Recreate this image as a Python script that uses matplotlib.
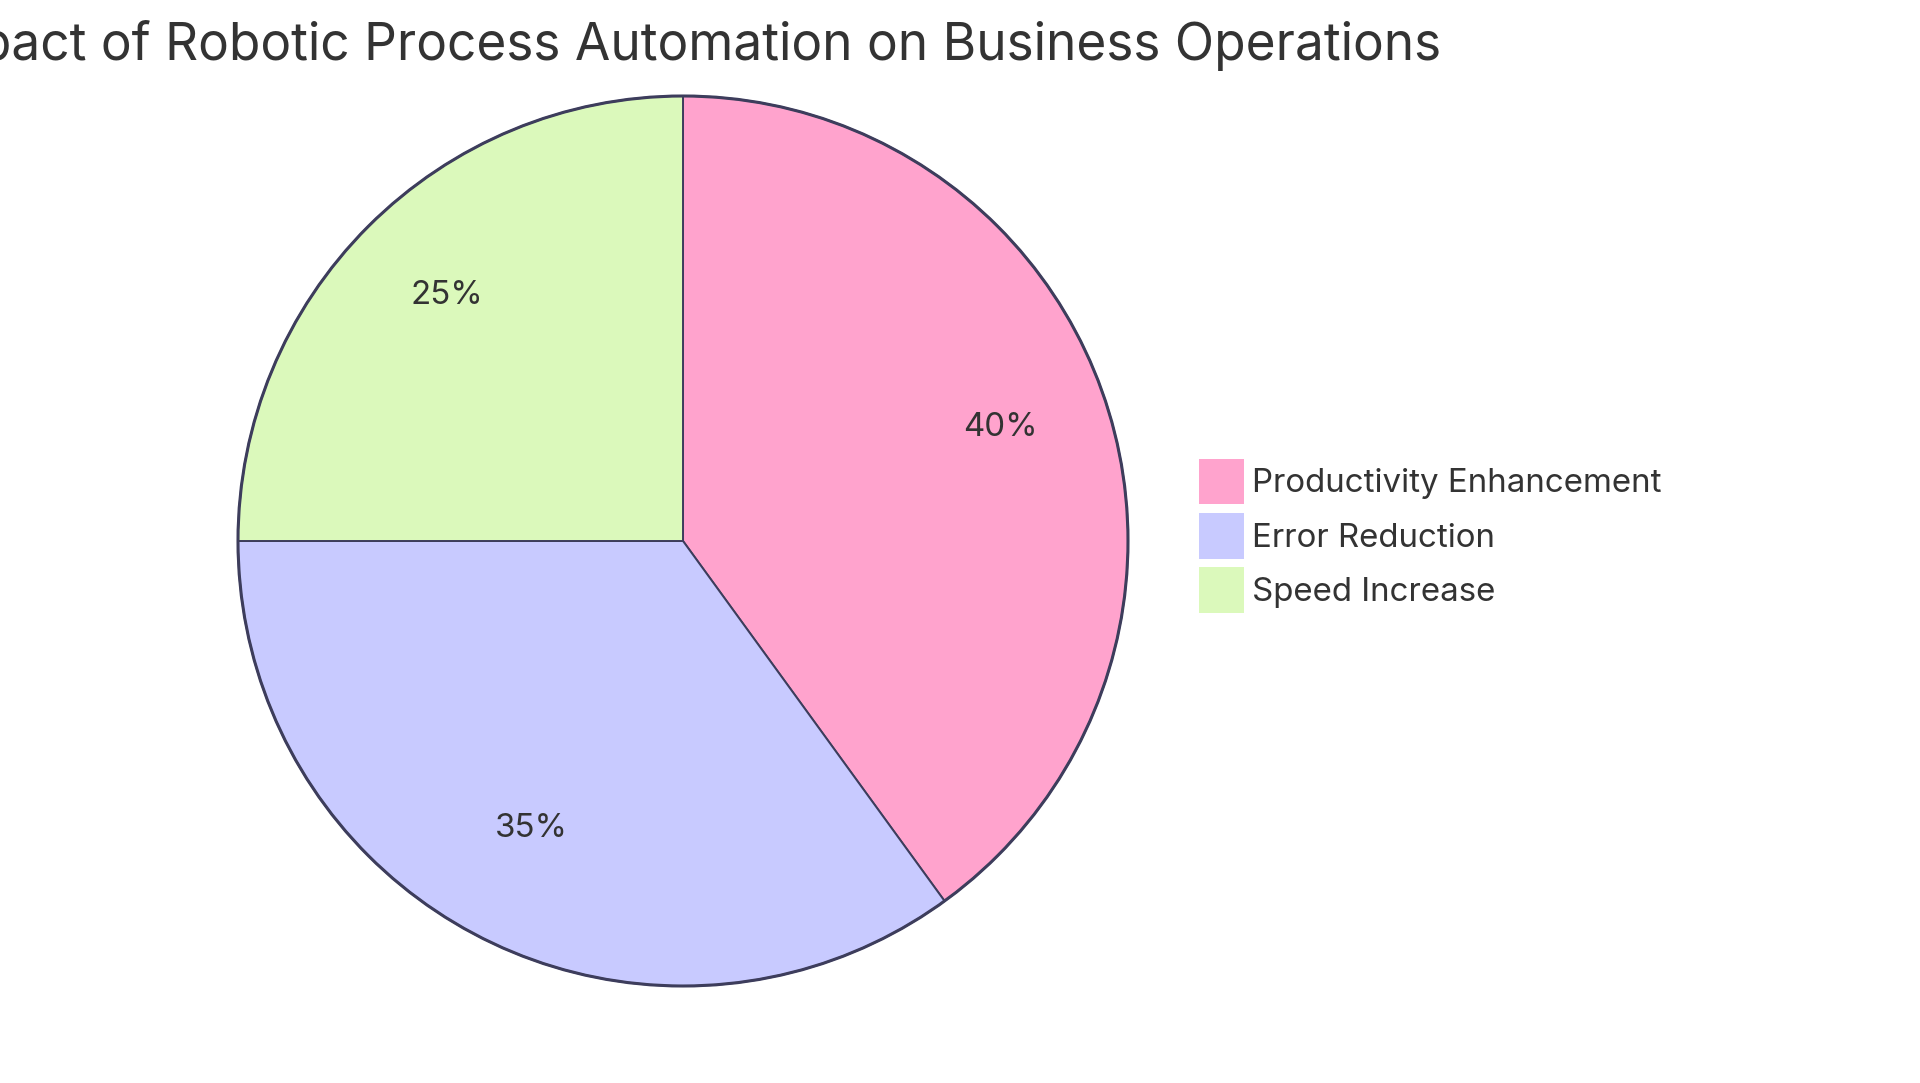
import matplotlib

matplotlib.use("Agg")
import matplotlib.pyplot as plt
import matplotlib.transforms as mtransforms

# data
labels = ["Productivity Enhancement", "Error Reduction", "Speed Increase"]
values = [40, 35, 25]
colors = ["#ffa3cd", "#c8caff", "#dbf9bb"]
title = "Impact of Robotic Process Automation on Business Operations"

W, H, DPI = 1920, 1083, 100
plt.rcParams["font.family"] = ["Inter", "DejaVu Sans"]
text_col = "#333333"
edge_col = "#3d3d5c"

fig = plt.figure(figsize=(W / DPI, H / DPI), dpi=DPI)

# pie centre (683, 541) px, radius 445 px; leave a small margin for the outline
cx, cy, r = 683, 541, 445
pad = 1.02
half = r * pad
ax = fig.add_axes([(cx - half) / W, (H - cy - half) / H, 2 * half / W, 2 * half / H])
wedges, _, autotexts = ax.pie(
    values,
    colors=colors,
    startangle=90,
    counterclock=False,
    autopct="%1.0f%%",
    pctdistance=0.75,
    radius=1.0,
    wedgeprops=dict(edgecolor=edge_col, linewidth=1.4),
    textprops=dict(fontsize=23.8, color=text_col),
)
# labels sit a bit higher in the reference
for t in autotexts:
    t.set_transform(mtransforms.offset_copy(t.get_transform(), fig=fig, y=10, units="dots"))

# outer ring drawn a little heavier
ring = plt.Circle((0, 0), 1.0, fill=False, edgecolor=edge_col, linewidth=2.2)
ax.add_patch(ring)
ax.set_xlim(-pad, pad)
ax.set_ylim(-pad, pad)
ax.set_aspect("equal")
ax.axis("off")

fig.text(1441 / W, 1 - 60 / H, title, ha="right", va="baseline",
         fontsize=37, color=text_col)

leg = fig.legend(
    wedges, labels,
    loc="upper left",
    bbox_to_anchor=(1199 / W, 1 - 459 / H),
    frameon=False,
    fontsize=23.8,
    handlelength=1.35,
    handleheight=1.74,
    handletextpad=0.26,
    labelspacing=0.26,
    borderpad=0,
    borderaxespad=0,
)
for t in leg.get_texts():
    t.set_color(text_col)
for h in leg.legend_handles:
    h.set_edgecolor("none")

fig.savefig("out.png", dpi=DPI)
